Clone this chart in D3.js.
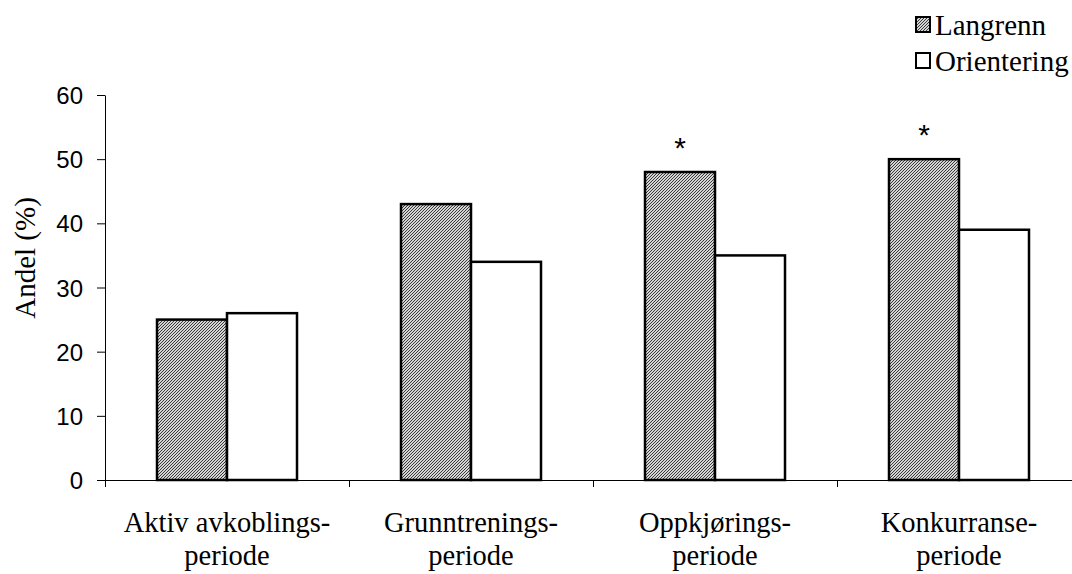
<!DOCTYPE html>
<html>
<head>
<meta charset="utf-8">
<script src="https://cdn.jsdelivr.net/npm/d3@7"></script>
<style>
  body { margin: 0; background: #fff; }
  .axis text { font-family: "Liberation Sans", Arial, sans-serif; font-size: 24px; fill: #000; }
  .axis path, .axis line { stroke: #000; stroke-width: 1; }
</style>
</head>
<body>
<svg id="chart" width="1072" height="574"></svg>
<script>
// Data
const categories = [
  ["Aktiv avkoblings-", "periode"],
  ["Grunntrenings-", "periode"],
  ["Oppkjørings-", "periode"],
  ["Konkurranse-", "periode"]
];
const seriesNames = ["Langrenn", "Orientering"];
const langrenn = [25, 43, 48, 50];
const orientering = [26, 34, 35, 39];
const significant = [false, false, true, true];
const yTicks = [0, 10, 20, 30, 40, 50, 60];

const serifFont = "'Liberation Serif', 'Times New Roman', Times, serif";
const svg = d3.select("#chart");

// Chart area
const plotLeft = 105, plotTop = 95, plotBottom = 480, bandW = 244;
const plotRight = plotLeft + bandW * categories.length;
const barW = 70;

// fine dithered pattern for Langrenn bars
const defs = svg.append("defs");
const pat = defs.append("pattern")
    .attr("id", "hatch")
    .attr("patternUnits", "userSpaceOnUse")
    .attr("width", 3)
    .attr("height", 3);
pat.append("rect").attr("width", 3).attr("height", 3).attr("fill", "#d4d4d4");
[[0, 2], [1, 1], [2, 0]].forEach(([px, py]) => {
    pat.append("rect")
        .attr("x", px).attr("y", py)
        .attr("width", 1).attr("height", 1)
        .attr("fill", "#3a3a3a");
});

const fills = ["url(#hatch)", "#fff"];

// Scales
const x = d3.scaleBand()
    .domain(d3.range(categories.length))
    .range([plotLeft, plotRight])
    .padding(0);

const xSub = d3.scaleBand()
    .domain(seriesNames)
    .range([x.bandwidth() / 2 - barW, x.bandwidth() / 2 + barW]);

const y = d3.scaleLinear()
    .domain([0, 60])
    .range([plotBottom, plotTop]);

// Y axis
svg.append("g")
    .attr("class", "axis")
    .attr("transform", `translate(${plotLeft},0)`)
    .call(d3.axisLeft(y).tickValues(yTicks).tickSize(8).tickSizeOuter(0).tickPadding(14))
    .call(g => g.selectAll("text").attr("dy", "0.36em"));

// X axis (ticks at category boundaries)
const xIdx = d3.scaleLinear().domain([0, categories.length]).range([plotLeft, plotRight]);
svg.append("g")
    .attr("class", "axis")
    .attr("transform", `translate(0,${plotBottom})`)
    .call(d3.axisBottom(xIdx).ticks(categories.length).tickSize(7).tickSizeOuter(0).tickFormat(""));

// Bars
const groups = svg.append("g").selectAll("g")
    .data(categories.map((c, i) => ({ i, values: [langrenn[i], orientering[i]] })))
    .join("g")
    .attr("transform", d => `translate(${x(d.i)},0)`);

groups.selectAll("rect")
    .data(d => d.values.map((v, j) => ({ name: seriesNames[j], v, j })))
    .join("rect")
    .attr("x", d => xSub(d.name))
    .attr("y", d => y(d.v))
    .attr("width", xSub.bandwidth())
    .attr("height", d => y(0) - y(d.v))
    .attr("fill", d => fills[d.j])
    .attr("stroke", "#000")
    .attr("stroke-width", 2.5);

// Significance asterisks
groups.filter(d => significant[d.i])
    .append("text")
    .attr("x", xSub(seriesNames[0]) + xSub.bandwidth() / 2)
    .attr("y", d => y(d.values[0]) - 14)
    .attr("text-anchor", "middle")
    .style("font-family", "'Liberation Sans', Arial, sans-serif")
    .style("font-size", "30px")
    .text("*");

// Category labels
const catLabels = svg.append("g").selectAll("text")
    .data(categories)
    .join("text")
    .attr("x", (d, i) => x(i) + x.bandwidth() / 2)
    .attr("y", 532)
    .attr("text-anchor", "middle")
    .style("font-family", serifFont)
    .style("font-size", "28.5px");
catLabels.each(function(d) {
    const t = d3.select(this);
    d.forEach((line, k) => {
        t.append("tspan")
            .attr("x", t.attr("x"))
            .attr("dy", k === 0 ? 0 : 33)
            .text(line);
    });
});

// Y axis label
svg.append("text")
    .attr("transform", `translate(35,258) rotate(-90)`)
    .attr("text-anchor", "middle")
    .style("font-family", serifFont)
    .style("font-size", "29px")
    .text("Andel (%)");

// Legend
const legend = svg.append("g").attr("transform", "translate(916,17)");
seriesNames.forEach((name, j) => {
    legend.append("rect")
        .attr("x", 0)
        .attr("y", j * 36)
        .attr("width", 14)
        .attr("height", 15)
        .attr("fill", fills[j])
        .attr("stroke", "#000")
        .attr("stroke-width", 2);
    legend.append("text")
        .attr("x", 19)
        .attr("y", j * 36 + 18)
        .style("font-family", serifFont)
        .style("font-size", "29px")
        .text(name);
});
</script>
</body>
</html>
